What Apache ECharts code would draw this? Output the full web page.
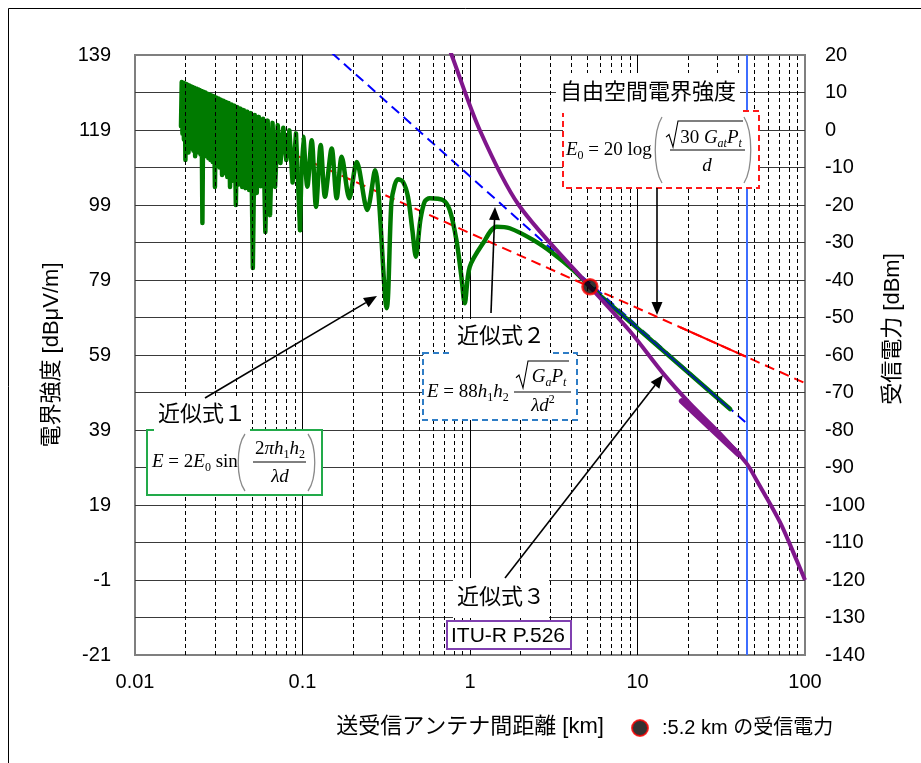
<!DOCTYPE html>
<html lang="ja">
<head>
<meta charset="utf-8">
<title>送受信アンテナ間距離と電界強度</title>
<script src="https://cdn.jsdelivr.net/npm/echarts@6/dist/echarts.min.js"></script>
<style>
html, body { margin: 0; padding: 0; background: #fff; }
#chart { width: 921px; height: 763px; }
</style>
</head>
<body>
<div id="chart"></div>
<script>
// Field strength E in dBμV/m; received power P[dBm] = E − 119.
// Both vertical axes share one dBm scale; the left axis shows the dBμV/m labels.
const DBUV_MINUS_DBM = 119;

const distanceTickLabels = { 0.01: '0.01', 0.1: '0.1', 1: '1', 10: '10', 100: '100' };
const fieldTickLabels = ['-21', '-1', '19', '39', '59', '79', '99', '119', '139'];
const powerTickLabels = ['-140', '-130', '-120', '-110', '-100', '-90', '-80', '-70', '-60',
  '-50', '-40', '-30', '-20', '-10', '0', '10', '20'];

// 近似式1 (two-ray interference), dense part: [distance km, E dBμV/m]
const twoRayNear = [
  [0.01882, 120.0], [0.01901, 131.8], [0.0192, 118.0], [0.01939, 131.6], [0.01959, 116.5],
  [0.01979, 131.5], [0.02, 111.0], [0.02021, 131.3], [0.02043, 115.5], [0.02065, 131.1],
  [0.02087, 113.0], [0.0211, 130.9], [0.02133, 114.0], [0.02157, 130.7], [0.02182, 114.5],
  [0.02207, 130.5], [0.02233, 113.5], [0.02259, 130.3], [0.02286, 112.0], [0.02313, 130.1],
  [0.02341, 114.0], [0.0237, 129.9], [0.024, 113.0], [0.0243, 129.7], [0.02462, 112.5],
  [0.02494, 129.4], [0.02526, 94.2], [0.0256, 129.2], [0.02595, 112.5], [0.0263, 129.0],
  [0.02667, 112.0], [0.02704, 128.7], [0.02743, 111.5], [0.02783, 128.5], [0.02824, 111.0],
  [0.02866, 128.2], [0.02909, 110.5], [0.02954, 128.0], [0.03, 103.8], [0.03048, 127.7],
  [0.03097, 109.5], [0.03148, 127.4], [0.032, 109.0], [0.03254, 127.1], [0.0331, 107.0],
  [0.03368, 126.8], [0.03429, 107.5], [0.03491, 126.5], [0.03556, 106.5], [0.03623, 126.2],
  [0.03692, 103.8], [0.03765, 125.8], [0.0384, 105.5], [0.03918, 125.5], [0.04, 99.0],
  [0.04085, 125.1], [0.04174, 104.5], [0.04267, 124.7], [0.04364, 103.8], [0.04465, 124.3],
  [0.04571, 103.5], [0.04683, 123.9], [0.048, 103.0], [0.04923, 123.5], [0.05053, 82.2],
  [0.05189, 123.0], [0.05333, 102.2], [0.05486, 122.5], [0.05647, 104.0], [0.05818, 122.0],
  [0.06, 91.8], [0.06194, 121.5], [0.064, 96.3], [0.06621, 120.9], [0.06857, 103.8],
  [0.07111, 120.3], [0.07385, 110.2], [0.0768, 119.6], [0.08, 111.0], [0.08348, 118.9],
  [0.08727, 105.0], [0.09143, 118.1], [0.0967, 92.3]
];

// 近似式1, resolved lobes up to the 5.2 km point
const twoRayFar = [
  [0.0967, 92.3], [0.1011, 117.2], [0.1069, 103.9], [0.1135, 116.3], [0.1204, 98.5],
  [0.1284, 115.0], [0.1362, 101.2], [0.1494, 114.1], [0.16, 100.8], [0.1714, 111.9],
  [0.1903, 100.8], [0.2107, 110.5], [0.2437, 97.7], [0.2709, 108.3], [0.3182, 71.5],
  [0.3392, 99.5], [0.355, 104.3], [0.3715, 105.9], [0.398, 105.2], [0.4262, 101.2],
  [0.4528, 92.3], [0.475, 85.2], [0.5055, 95.0], [0.5363, 99.9], [0.5746, 100.8],
  [0.69, 100.3], [0.7561, 97.7], [0.8294, 89.7], [0.8886, 79.9], [0.9297, 72.8],
  [0.9959, 82.5], [1.196, 88.8], [1.438, 93.2], [1.727, 92.8], [2.378, 89.7],
  [3.132, 86.1], [4.124, 81.7], [5.2, 77.2]
];

// 近似式1 beyond 5.2 km (coincides with 近似式2)
const twoRayTail = [[5.2, 77.2], [35.7, 44.6]];

// 近似式2 (plane-earth, −40 dB/decade)
const planeEarth = [[0.15, 139.5], [45, 40.7]];

// 自由空間電界強度 (−20 dB/decade)
const freeSpace = [[0.0188, 126.0], [100, 51.5]];
const freeSpaceSolidPart = [[18, 66.4], [45, 58.45]];

// 近似式3 ITU-R P.526
const itu526 = [
  [0.697, 144.8], [0.777, 139.0], [1.143, 119.0], [1.954, 99.0], [5.2, 77.2],
  [8.995, 65.4], [14.22, 54.1], [20.54, 46.1], [31.02, 38.1], [44.78, 30.1],
  [51.39, 25.6], [70.8, 14.5], [89.1, 4.3], [100, -1.0]
];
const itu526Branch = [[18.4, 46.7], [40, 32.6]];

// received power marker at 5.2 km
const pointDistance = 5.2;
const pointField = 77.2;

// service-range limit
const rangeLimitKm = 45;

// minor vertical grid at 2..9 of each decade
const minorDistances = [];
[0.01, 0.1, 1, 10].forEach(dec => {
  for (let k = 2; k <= 9; k++) minorDistances.push(+(k * dec).toPrecision(3));
});

const toPower = arr => arr.map(([d, e]) => [d, +(e - DBUV_MINUS_DBM).toFixed(2)]);

const LATIN = '"Liberation Sans", Arial, sans-serif';
const JP = '"Liberation Sans", "Noto Sans CJK JP", sans-serif';
const MATH = '"Liberation Serif", "DejaVu Serif", serif';

const mathRich = {
  i: { fontFamily: MATH, fontStyle: 'italic', fontSize: 19, lineHeight: 24, fill: '#000' },
  r: { fontFamily: MATH, fontSize: 19, lineHeight: 24, fill: '#000' },
  s: { fontFamily: MATH, fontSize: 12, lineHeight: 12, verticalAlign: 'bottom', fill: '#000' },
  si: { fontFamily: MATH, fontStyle: 'italic', fontSize: 12, lineHeight: 12, verticalAlign: 'bottom', fill: '#000' },
  p: { fontFamily: MATH, fontSize: 12, lineHeight: 12, verticalAlign: 'top', fill: '#000' }
};

function mathText(x, y, text, align) {
  return {
    type: 'text', z: 102, x: x, y: y,
    style: { text: text, rich: mathRich, align: align || 'left', textAlign: align || 'left',
      verticalAlign: 'middle', textVerticalAlign: 'middle' }
  };
}
function plainText(x, y, text, size, opts) {
  opts = opts || {};
  return Object.assign({
    type: 'text', z: 102, x: x, y: y,
    style: Object.assign({ text: text, fill: '#000', font: size + 'px ' + JP,
      align: 'left', textAlign: 'left', verticalAlign: 'middle', textVerticalAlign: 'middle' }, opts.style || {})
  }, opts.el || {});
}
function hline(x1, x2, y, w) {
  return { type: 'line', z: 102, shape: { x1: x1, y1: y, x2: x2, y2: y }, style: { stroke: '#000', lineWidth: w || 1 } };
}
function paren(x, top, bottom, open) {
  const h = bottom - top;
  const outer = open ? x + 7 : x;
  const inner = open ? x : x + 7;
  return {
    type: 'bezierCurve', z: 102,
    shape: { x1: outer, y1: top, x2: outer, y2: bottom,
      cpx1: inner - (open ? 2 : -2), cpy1: top + h * 0.22, cpx2: inner - (open ? 2 : -2), cpy2: bottom - h * 0.22 },
    style: { stroke: '#8a8a8a', lineWidth: 1.3, fill: null }
  };
}
function sqrtSign(x, top, bottom, right) {
  const h = bottom - top;
  return {
    type: 'polyline', z: 102,
    shape: { points: [[x, top + h * 0.62], [x + 3, top + h * 0.52], [x + 7, bottom], [x + 12, top], [right, top]] },
    style: { stroke: '#000', lineWidth: 1.1, fill: null }
  };
}
function box(x, y, w, h, color, dashed) {
  return {
    type: 'rect', z: 100, shape: { x: x, y: y, width: w, height: h },
    style: { fill: '#fff', stroke: color, lineWidth: 2, lineDash: dashed ? [6, 4] : null }
  };
}
function arrow(p0, p1) {
  const dx = p1[0] - p0[0], dy = p1[1] - p0[1];
  const len = Math.hypot(dx, dy), ux = dx / len, uy = dy / len;
  const hl = 13, hw = 5.5;
  const bx = p1[0] - ux * hl, by = p1[1] - uy * hl;
  return [
    { type: 'line', z: 103, shape: { x1: p0[0], y1: p0[1], x2: bx, y2: by }, style: { stroke: '#000', lineWidth: 1.6 } },
    { type: 'polygon', z: 103, shape: { points: [[p1[0], p1[1]], [bx - uy * hw, by + ux * hw], [bx + uy * hw, by - ux * hw]] },
      style: { fill: '#000' } }
  ];
}

const graphics = [
  // outer frame
  { type: 'rect', z: 0, shape: { x: 8.5, y: 8.5, width: 1000, height: 1000 }, style: { fill: null, stroke: '#000', lineWidth: 1 } },

  // 受信電力 axis title
  plainText(893, 329, '受信電力 [dBm]', 22, { el: { rotation: Math.PI / 2 }, style: { align: 'center', textAlign: 'center' } }),

  // 近似式1
  plainText(154, 415, '近似式１', 22, { style: { backgroundColor: '#fff', padding: [6, 4, 4, 4] } }),
  box(147, 430, 175, 65, '#22aa4a', false),
  mathText(152, 462, '{i|E}{r| = 2}{i|E}{s|0}{r| sin}'),
  paren(238, 434, 491, true),
  mathText(280, 449, '{r|2}{i|πh}{s|1}{i|h}{s|2}', 'center'),
  hline(253, 306, 462, 1),
  mathText(280, 477, '{i|λd}', 'center'),
  paren(308, 434, 491, false),

  // 近似式2
  plainText(453, 337, '近似式２', 22, { style: { backgroundColor: '#fff', padding: [8, 4, 6, 4] } }),
  box(423, 353, 154, 67, '#2e7dc6', true),
  mathText(427, 392, '{i|E}{r| = 88}{i|h}{s|1}{i|h}{s|2}'),
  sqrtSign(516, 361, 388, 569),
  mathText(549, 377, '{i|G}{si|a}{i|P}{si|t}', 'center'),
  hline(514, 571, 392, 1),
  mathText(543, 406, '{i|λd}{p|2}', 'center'),

  // 自由空間電界強度
  plainText(556, 93, '自由空間電界強度', 22, { style: { backgroundColor: '#fff', padding: [10, 4, 8, 4] } }),
  box(563, 111, 196, 77, '#ff1a1a', true),
  mathText(566, 150, '{i|E}{s|0}{r| = 20 log}'),
  paren(655, 117, 183, true),
  sqrtSign(666, 121, 147, 743),
  mathText(711, 138, '{r|30 }{i|G}{si|at}{i|P}{si|t}', 'center'),
  hline(670, 745, 150, 1),
  mathText(707, 166, '{i|d}', 'center'),
  paren(744, 117, 183, false),

  // 近似式3
  plainText(453, 598, '近似式３', 22, { style: { backgroundColor: '#fff', padding: [8, 4, 10, 4] } }),
  box(447, 621, 124, 28, '#8040b0', false),
  plainText(451, 636, 'ITU-R P.526', 21, { style: { font: '21px ' + LATIN } })
]
  .concat(arrow([205, 398], [377, 296]))
  .concat(arrow([491, 313], [495, 207]))
  .concat(arrow([657, 188], [657, 315]))
  .concat(arrow([505, 578], [663, 375]));

const lineBase = { type: 'line', showSymbol: false, symbol: 'none', silent: true, animation: false, clip: true };

const option = {
  animation: false,
  backgroundColor: '#fff',
  grid: { left: 135, top: 55, width: 670, height: 600, show: true, borderColor: '#7f7f7f', borderWidth: 2, backgroundColor: 'transparent' },
  legend: {
    data: [':5.2 km の受信電力'], left: 631, top: 718, padding: 0, itemWidth: 16, itemHeight: 16,
    icon: 'circle', selectedMode: false,
    textStyle: { fontSize: 20, color: '#000', fontFamily: JP, padding: [0, 0, 0, 9] }
  },
  xAxis: {
    type: 'log', logBase: 10, min: 0.01, max: 100,
    axisLine: { show: false }, axisTick: { show: false },
    axisLabel: { margin: 17, fontSize: 20, color: '#000', fontFamily: LATIN,
      formatter: v => distanceTickLabels[+(+v).toPrecision(3)] || String(+(+v).toPrecision(3)) },
    splitLine: { show: true, showMinLine: false, showMaxLine: false, lineStyle: { color: '#000', width: 1 } },
    name: '送受信アンテナ間距離 [km]', nameLocation: 'middle', nameGap: 61,
    nameTextStyle: { fontSize: 22, color: '#000', fontFamily: JP }
  },
  yAxis: [
    {
      type: 'value', position: 'left', min: -140, max: 20, interval: 20,
      axisLine: { show: false }, axisTick: { show: false }, splitLine: { show: false },
      axisLabel: { margin: 24, fontSize: 20, color: '#000', fontFamily: LATIN,
        formatter: v => fieldTickLabels[Math.round((v + 140) / 20)] },
      name: '電界強度 [dBμV/m]', nameLocation: 'middle', nameGap: 72, nameRotate: 90,
      nameTextStyle: { fontSize: 22, color: '#000', fontFamily: JP }
    },
    {
      type: 'value', position: 'right', min: -140, max: 20, interval: 10,
      axisLine: { show: false }, axisTick: { show: false },
      splitLine: { show: true, showMinLine: false, showMaxLine: false, lineStyle: { color: '#3a3a3a', width: 1 } },
      axisLabel: { margin: 20, fontSize: 20, color: '#000', fontFamily: LATIN,
        formatter: v => powerTickLabels[Math.round((v + 140) / 10)] }
    }
  ],
  series: [
    Object.assign({}, lineBase, {
      name: 'grid', z: 1, data: [[0.01, -300]], lineStyle: { width: 0 },
      markLine: {
        silent: true, animation: false, symbol: ['none', 'none'], label: { show: false },
        lineStyle: { color: '#000', width: 1, type: [4, 3] },
        data: minorDistances.map(v => ({ xAxis: v }))
          .concat([{ xAxis: rangeLimitKm, lineStyle: { color: '#3d6dff', width: 2, type: 'solid' } }])
      }
    }),
    Object.assign({}, lineBase, {
      name: '自由空間電界強度', z: 3, data: toPower(freeSpace),
      lineStyle: { color: '#ff0000', width: 2, type: [10, 6] }
    }),
    Object.assign({}, lineBase, {
      name: '自由空間電界強度 (実線)', z: 3, data: toPower(freeSpaceSolidPart),
      lineStyle: { color: '#ff0000', width: 2 }
    }),
    Object.assign({}, lineBase, {
      name: '近似式2', z: 3, data: toPower(planeEarth),
      lineStyle: { color: '#0000ff', width: 2, type: [10, 6] }
    }),
    Object.assign({}, lineBase, {
      name: '近似式1', z: 4, data: toPower(twoRayNear),
      lineStyle: { color: '#007a00', width: 4.5, join: 'round', cap: 'round' }
    }),
    Object.assign({}, lineBase, {
      name: '近似式1 (遠)', z: 4, data: toPower(twoRayFar), smooth: 0.3,
      lineStyle: { color: '#007a00', width: 4.5, join: 'round', cap: 'round' }
    }),
    Object.assign({}, lineBase, {
      name: '近似式1 (5.2 km以遠)', z: 4, data: toPower(twoRayTail),
      lineStyle: { color: '#007a00', width: 4.5, cap: 'round' }
    }),
    Object.assign({}, lineBase, {
      name: '近似式2 (実線)', z: 5, data: toPower(twoRayTail),
      lineStyle: { color: '#00209a', width: 2 }
    }),
    Object.assign({}, lineBase, {
      name: '近似式3', z: 6, data: toPower(itu526), smooth: 0.3,
      lineStyle: { color: '#80168c', width: 4, join: 'round' }
    }),
    Object.assign({}, lineBase, {
      name: '近似式3 (分岐)', z: 6, data: toPower(itu526Branch),
      lineStyle: { color: '#80168c', width: 6, cap: 'round' }
    }),
    {
      name: ':5.2 km の受信電力', type: 'scatter', z: 10, silent: true, animation: false,
      symbol: 'circle', symbolSize: 15,
      itemStyle: { color: '#000', borderColor: '#ff0000', borderWidth: 2.5 },
      data: toPower([[pointDistance, pointField]])
    }
  ],
  graphic: { elements: graphics }
};

const chart = echarts.init(document.getElementById('chart'), null, { renderer: 'canvas' });
chart.setOption(option);
</script>
</body>
</html>
